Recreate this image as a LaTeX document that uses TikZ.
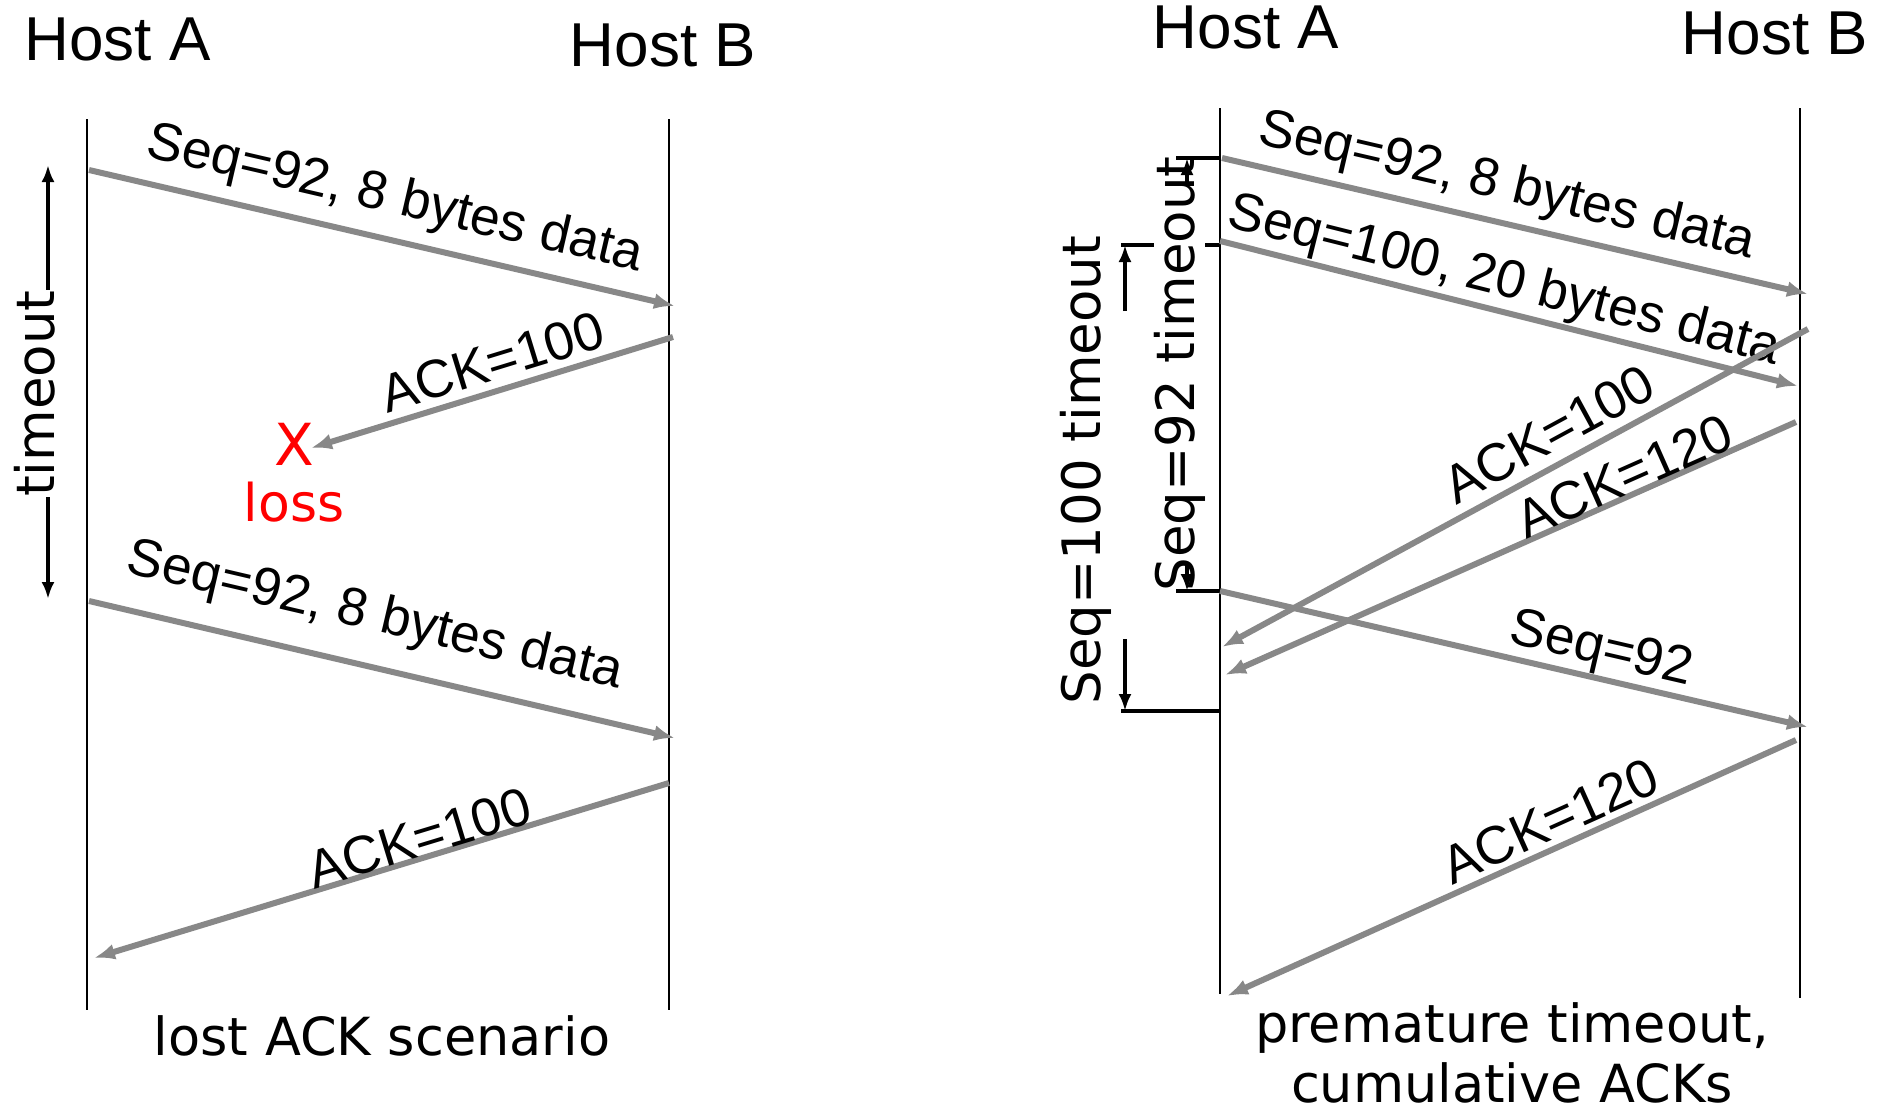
\documentclass[tikz,border=0pt]{standalone}
\usepackage{fontspec}
\setmainfont{Liberation Sans}
\newfontfamily\dvsans{DejaVu Sans}
\usetikzlibrary{arrows.meta}

\definecolor{msggray}{HTML}{888888}
\definecolor{lossred}{HTML}{FF0000}

\tikzset{
  lifeline/.style={draw=black, line width=2pt},
  msg/.style={draw=msggray, line width=6pt, -{Latex[length=21pt,width=16pt]}},
  tick/.style={draw=black, line width=3.5pt},
  tmline/.style={draw=black, line width=3.5pt},
  tmarrow/.style={draw=black, line width=3.5pt, -{Latex[length=17pt,width=13pt]}},
  host/.style={font=\fontsize{62}{70}\selectfont, inner sep=0pt, anchor=base},
  lbl/.style={font=\fontsize{53.5}{60}\selectfont, inner sep=0pt},
  caption/.style={font=\dvsans\fontsize{52.5}{60}\selectfont, inner sep=0pt, anchor=base},
  tmlabel/.style={font=\dvsans\fontsize{53}{60}\selectfont, inner sep=0pt, anchor=base, rotate=90},
  lossmark/.style={font=\dvsans\fontsize{58}{64}\selectfont, text=lossred, inner sep=0pt, anchor=base}
}

\begin{document}
\begin{tikzpicture}[x=1pt,y=-1pt]
\useasboundingbox (0,0) rectangle (1890,1111);

% ---------------- lost ACK scenario ----------------
\node[host] (hostA1) at (117.5,60) {Host A};
\node[host] (hostB1) at (663,66) {Host B};

\coordinate (A1top) at (87,119);
\coordinate (A1bot) at (87,1010);
\coordinate (B1top) at (669,119);
\coordinate (B1bot) at (669,1010);
\draw[lifeline] (A1top) -- (A1bot);
\draw[lifeline] (B1top) -- (B1bot);

% first transmission
\coordinate (l1s) at (89,170);
\coordinate (l1e) at (675,306);
\draw[msg] (l1s) -- (l1e);
\node[lbl, rotate=-13.07] (l1lbl) at (395,200) {Seq=92, 8 bytes data};

% lost acknowledgement
\coordinate (l2s) at (673,337);
\coordinate (l2e) at (311,448);
\draw[msg] (l2s) -- (l2e);
\node[lbl, rotate=17.05] (l2lbl) at (492,362) {ACK=100};
\node[lossmark] (lossX) at (294,465) {X};
\node[lossmark, font=\dvsans\fontsize{52}{60}\selectfont] (lossTxt) at (294,521) {loss};

% retransmission
\coordinate (l3s) at (89,601);
\coordinate (l3e) at (675,738);
\draw[msg] (l3s) -- (l3e);
\node[lbl, rotate=-13.16] (l3lbl) at (375,617) {Seq=92, 8 bytes data};

\coordinate (l4s) at (669,783);
\coordinate (l4e) at (94,958);
\draw[msg] (l4s) -- (l4e);
\node[lbl, rotate=16.93] (l4lbl) at (419,838) {ACK=100};

% timeout interval
\coordinate (t1top) at (48,165);
\coordinate (t1bot) at (48,599);
\draw[tmline, {Latex[length=17pt,width=13pt]}-{Latex[length=17pt,width=13pt]}] (t1top) -- (t1bot);
\node[tmlabel, fill=white] (t1lbl) at (54,393.5) {timeout};

\node[caption] (cap1) at (382,1055) {lost ACK scenario};

% ---------------- premature timeout ----------------
\node[host] (hostA2) at (1246,48) {Host A};
\node[host] (hostB2) at (1775,54) {Host B};

\coordinate (A2top) at (1220,108);
\coordinate (A2bot) at (1220,994);
\coordinate (B2top) at (1800,108);
\coordinate (B2bot) at (1800,998);
\draw[lifeline] (A2top) -- (A2bot);
\draw[lifeline] (B2top) -- (B2bot);

% Seq=100 timer start tick (partly hidden by the Seq=92 timer label)
\coordinate (t100a) at (1121,245);
\coordinate (t100b) at (1220,245);
\draw[tick] (t100a) -- (t100b);

% Seq=92 timer
\coordinate (t92top) at (1187,158);
\coordinate (t92bot) at (1187,591);
\draw[tmline] (t92top) -- (t92bot);
\node[tmlabel, fill=white] (t92lbl) at (1194,374) {Seq=92 timeout};
\coordinate (t92ta) at (1176,158);
\coordinate (t92tb) at (1220,158);
\coordinate (t92ba) at (1176,591);
\coordinate (t92bb) at (1220,591);
\draw[tick] (t92ta) -- (t92tb);
\draw[tick] (t92ba) -- (t92bb);
\coordinate (t92up) at (1187,185);
\coordinate (t92dn) at (1187,565);
\draw[tmarrow] (t92up) -- (t92top);
\draw[tmarrow] (t92dn) -- (t92bot);

% Seq=100 timer
\coordinate (t100up0) at (1125,311);
\coordinate (t100up1) at (1125,245);
\coordinate (t100dn0) at (1125,639);
\coordinate (t100dn1) at (1125,711);
\draw[tmarrow] (t100up0) -- (t100up1);
\draw[tmarrow] (t100dn0) -- (t100dn1);
\coordinate (t100c) at (1121,711);
\coordinate (t100d) at (1220,711);
\draw[tick] (t100c) -- (t100d);
\node[tmlabel] (t100lbl) at (1100,470) {Seq=100 timeout};

% segments and acknowledgements
\coordinate (r1s) at (1222,158);
\coordinate (r1e) at (1808,294);
\draw[msg] (r1s) -- (r1e);
\node[lbl, rotate=-13.07] (r1lbl) at (1507,187) {Seq=92, 8 bytes data};

\coordinate (r2s) at (1220,241);
\coordinate (r2e) at (1798,386);
\draw[msg] (r2s) -- (r2e);
\node[lbl, rotate=-14.08] (r2lbl) at (1504,282) {Seq=100, 20 bytes data};

\coordinate (r3s) at (1808,329);
\coordinate (r3e) at (1222,647);
\draw[msg] (r3s) -- (r3e);
\node[lbl, rotate=28.49] (r3lbl) at (1549,434) {ACK=100};

\coordinate (r4s) at (1796,422);
\coordinate (r4e) at (1225,675);
\draw[msg] (r4s) -- (r4e);
\node[lbl, rotate=23.9] (r4lbl) at (1624,476) {ACK=120};

\coordinate (r5s) at (1220,591);
\coordinate (r5e) at (1808,727);
\draw[msg] (r5s) -- (r5e);
\node[lbl, rotate=-13.02] (r5lbl) at (1601,651) {Seq=92};

\coordinate (r6s) at (1796,740);
\coordinate (r6e) at (1227,996);
\draw[msg] (r6s) -- (r6e);
\node[lbl, rotate=24.2] (r6lbl) at (1550,821) {ACK=120};

\node[caption] (cap2a) at (1512,1042) {premature timeout,};
\node[caption] (cap2b) at (1512,1102) {cumulative ACKs};
\end{tikzpicture}
\end{document}
